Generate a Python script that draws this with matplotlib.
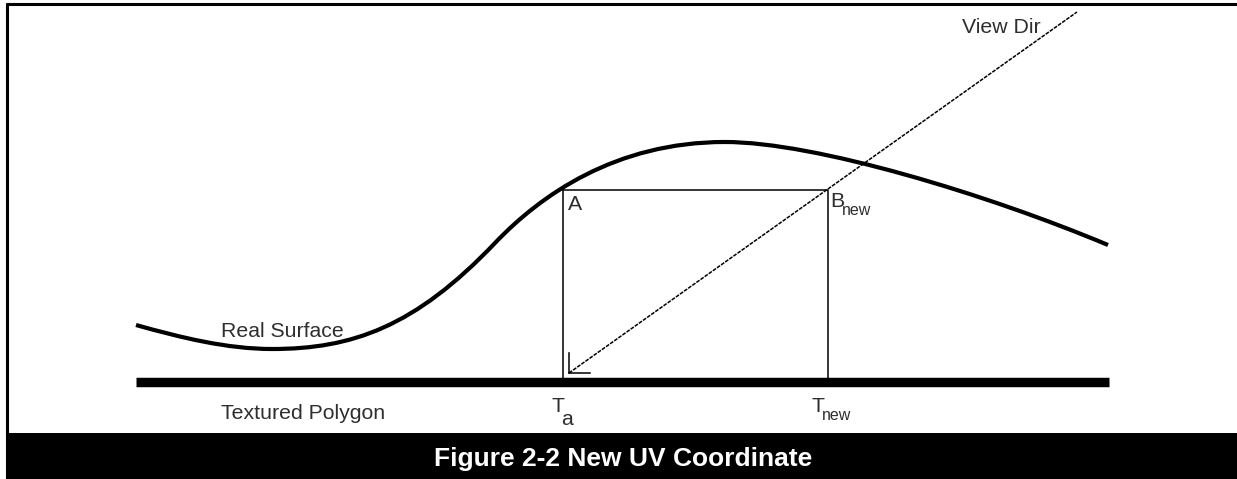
import matplotlib.pyplot as plt
from matplotlib.path import Path
from matplotlib.patches import PathPatch, Rectangle

plt.rcParams['font.family'] = ['Liberation Sans', 'DejaVu Sans']

# ------------------------- 图形几何（像素坐标） -------------------------
W, H = 1237, 479

# Real Surface 曲线：三次贝塞尔段 (控制点1, 控制点2, 终点)
curve_start = (136, 325)
curve_segs = [
    [(181, 337.6), (227, 349), (272, 349)],
    [(352, 349), (415, 327), (495, 243)],
    [(540, 195.8), (615, 142), (725, 142)],
    [(815, 142), (988, 194.6), (1108, 245)],
]

# Textured Polygon 底线
base_x = [136, 1109]
base_y = 381.5

# 点 A, B_new 及矩形
A_pt = (563, 190)
B_pt = (828, 190)

# 视线方向 View Dir
view_tip = (569, 373)
view_end = (1077, 12)
arrow_v = [(569, 353), (569, 373)]
arrow_h = [(569, 373), (590, 373)]

# 文字标签
labels = ['Real Surface', 'Textured Polygon', 'View Dir', 'A']
label_pos = [(221, 337), (221, 419), (962, 33), (568, 210)]
title = 'Figure 2-2 New UV Coordinate'

txt_color = '#2e2e2e'
fs = 15.3

fig = plt.figure(figsize=(W / 100, H / 100), dpi=100)
ax = fig.add_axes([0, 0, 1, 1])
ax.set_xlim(0, W)
ax.set_ylim(H, 0)
ax.axis('off')

# 外框和底部标题栏
ax.plot([7, 7], [3, H], color='black', lw=2.2, solid_capstyle='butt')
ax.plot([6, W], [4, 4], color='black', lw=2.2, solid_capstyle='butt')
ax.add_patch(Rectangle((6, 433), W - 6, H - 433, color='black', lw=0))
ax.text(623, 466, title, color='white', fontsize=19, fontweight='bold',
        ha='center', va='baseline')

# 曲线
verts = [curve_start]
codes = [Path.MOVETO]
for seg in curve_segs:
    verts += seg
    codes += [Path.CURVE4] * 3
ax.add_patch(PathPatch(Path(verts, codes), fill=False, lw=3.0, color='black',
                       capstyle='butt'))

# 底线
ax.plot(base_x, [base_y, base_y], color='black', lw=6.8, solid_capstyle='butt')

# 矩形 A - B_new - T_new - T_a
ax.plot([A_pt[0], A_pt[0], B_pt[0], B_pt[0]], [base_y, A_pt[1], B_pt[1], base_y],
        color='black', lw=1.1)

# 视线
ax.plot([view_tip[0], view_end[0]], [view_tip[1], view_end[1]], color='black',
        lw=1.1, linestyle=(0, (2.5, 0.8)))
ax.plot(*zip(*arrow_v), color='black', lw=1.1)
ax.plot(*zip(*arrow_h), color='black', lw=1.1)

for s, (x, y) in zip(labels, label_pos):
    ax.text(x, y, s, fontsize=fs, color=txt_color, ha='left', va='baseline')

# 带下标的标签
ax.text(551, 412, 'T', fontsize=fs, color=txt_color, ha='left', va='baseline')
ax.text(561, 425, 'a', fontsize=fs, color=txt_color, ha='left', va='baseline')
ax.text(812, 412, 'T', fontsize=fs, color=txt_color, ha='left', va='baseline')
ax.text(822, 420, 'new', fontsize=11.5, color=txt_color, ha='left', va='baseline')
ax.text(830, 207, 'B', fontsize=fs, color=txt_color, ha='left', va='baseline')
ax.text(842, 215, 'new', fontsize=11.5, color=txt_color, ha='left', va='baseline')

fig.savefig('out.png', dpi=100)
